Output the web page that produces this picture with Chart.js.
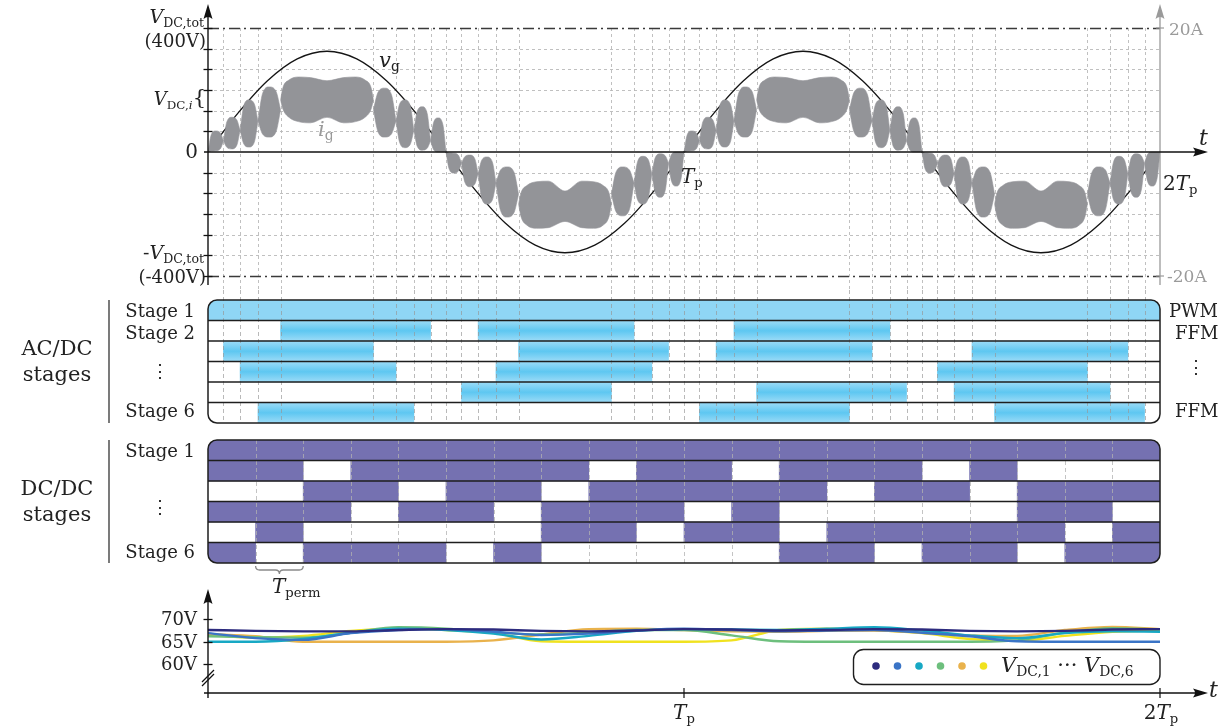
<!DOCTYPE html>
<html>
<head>
<meta charset="utf-8">
<script src="https://cdn.jsdelivr.net/npm/chart.js@4.4.0/dist/chart.umd.min.js"></script>
<style>
  body { margin: 0; background: #fff; }
  #wrap { position: relative; width: 1232px; height: 728px; overflow: hidden; font-family: "DejaVu Serif", serif; color: #222; }
  canvas { position: absolute; left: 0; }
  .lb { position: absolute; white-space: nowrap; }
  .lb sub { font-size: 0.66em; vertical-align: -0.32em; line-height: 0; font-style: normal; }
</style>
</head>
<body>
<div id="wrap">
  <canvas id="cTop" width="1232" height="290" style="top:0px"></canvas>
  <canvas id="cAc" width="1232" height="140" style="top:290px"></canvas>
  <canvas id="cDc" width="1232" height="170" style="top:430px"></canvas>
  <canvas id="cV" width="1232" height="143" style="top:585px"></canvas>
</div>
<script>
// time in ms, Tp = 20 ms, plot spans 0 .. 2Tp
const tEnd = 40;
const vDcTot = 400;       // V
const iMax = 20;          // A, right axis

// switching instants of the AC/DC stages (vertical grid of top panels)
const swT = [0.65, 1.35, 2.1, 3.05, 6.95, 7.9, 8.65, 9.35, 10,
             10.65, 11.35, 12.1, 13.05, 16.95, 17.9, 18.65, 19.35, 20,
             20.65, 21.35, 22.1, 23.05, 26.95, 27.9, 28.65, 29.35, 30,
             30.65, 31.35, 32.1, 33.05, 36.95, 37.9, 38.65, 39.35];

// grid voltage v_g
const vgT = [0, 1.25, 2.5, 3.75, 5, 6.25, 7.5, 8.75, 10, 11.25, 12.5, 13.75, 15, 16.25, 17.5, 18.75,
             20, 21.25, 22.5, 23.75, 25, 26.25, 27.5, 28.75, 30, 31.25, 32.5, 33.75, 35, 36.25, 37.5, 38.75, 40];
const vgV = [0, 124.4, 229.8, 300.3, 325, 300.3, 229.8, 124.4, 0, -124.4, -229.8, -300.3, -325, -300.3, -229.8, -124.4,
             0, 124.4, 229.8, 300.3, 325, 300.3, 229.8, 124.4, 0, -124.4, -229.8, -300.3, -325, -300.3, -229.8, -124.4, 0];

// grid current i_g : upper / lower envelope of each ripple lobe (A), null separates lobes
const igT = [
  0, 0.13, 0.32, 0.52, 0.65, 0.65, 0.65, 0.79, 1.0, 1.21, 1.35, 1.35, 1.35, 1.5, 1.72, 1.95, 2.1, 2.1, 2.1, 2.29, 2.57, 2.86, 3.05, 3.05,
  3.05, 3.15, 3.4, 3.8, 4.3, 5.0, 5.7, 6.2, 6.6, 6.85, 6.95, 6.95,
  6.95, 7.14, 7.42, 7.71, 7.9, 7.9, 7.9, 8.05, 8.27, 8.5, 8.65, 8.65, 8.65, 8.79, 9.0, 9.21, 9.35, 9.35, 9.35, 9.48, 9.67, 9.87, 10, 10,
  10, 10.13, 10.32, 10.52, 10.65, 10.65, 10.65, 10.79, 11.0, 11.21, 11.35, 11.35, 11.35, 11.5, 11.72, 11.95, 12.1, 12.1, 12.1, 12.29, 12.57, 12.86, 13.05, 13.05,
  13.05, 13.15, 13.4, 13.8, 14.3, 15.0, 15.7, 16.2, 16.6, 16.85, 16.95, 16.95,
  16.95, 17.14, 17.42, 17.71, 17.9, 17.9, 17.9, 18.05, 18.27, 18.5, 18.65, 18.65, 18.65, 18.79, 19.0, 19.21, 19.35, 19.35, 19.35, 19.48, 19.67, 19.87, 20, 20,
  20, 20.13, 20.32, 20.52, 20.65, 20.65, 20.65, 20.79, 21.0, 21.21, 21.35, 21.35, 21.35, 21.5, 21.72, 21.95, 22.1, 22.1, 22.1, 22.29, 22.57, 22.86, 23.05, 23.05,
  23.05, 23.15, 23.4, 23.8, 24.3, 25.0, 25.7, 26.2, 26.6, 26.85, 26.95, 26.95,
  26.95, 27.14, 27.42, 27.71, 27.9, 27.9, 27.9, 28.05, 28.27, 28.5, 28.65, 28.65, 28.65, 28.79, 29.0, 29.21, 29.35, 29.35, 29.35, 29.48, 29.67, 29.87, 30, 30,
  30, 30.13, 30.32, 30.52, 30.65, 30.65, 30.65, 30.79, 31.0, 31.21, 31.35, 31.35, 31.35, 31.5, 31.72, 31.95, 32.1, 32.1, 32.1, 32.29, 32.57, 32.86, 33.05, 33.05,
  33.05, 33.15, 33.4, 33.8, 34.3, 35.0, 35.7, 36.2, 36.6, 36.85, 36.95, 36.95,
  36.95, 37.14, 37.42, 37.71, 37.9, 37.9, 37.9, 38.05, 38.27, 38.5, 38.65, 38.65, 38.65, 38.79, 39.0, 39.21, 39.35, 39.35, 39.35, 39.48, 39.67, 39.87, 40, 40];
const igHi = [
  0, 2.72, 3.4, 3.08, 1.8, null, 1.8, 4.84, 5.6, 5.18, 3.5, null, 3.5, 7.42, 8.4, 7.72, 5.0, null, 5.0, 9.4, 10.5, 9.76, 6.8, null,
  8.4, 10.4, 11.6, 12.1, 12.0, 11.5, 12.0, 12.1, 11.6, 10.4, 8.4, null,
  6.8, 9.6, 10.3, 9.24, 5.0, null, 5.0, 7.72, 8.4, 7.42, 3.5, null, 3.5, 6.54, 7.3, 6.2, 1.8, null, 1.8, 4.76, 5.5, 4.4, 0, null,
  0, -0.16, -0.2, -0.52, -1.8, null, -1.8, -0.76, -0.5, -1.1, -3.5, null, -3.5, -1.34, -0.8, -1.64, -5.0, null, -5.0, -2.92, -2.4, -3.28, -6.8, null,
  -8.4, -6.6, -5.4, -4.8, -4.7, -6.3, -4.7, -4.8, -5.4, -6.6, -8.4, null,
  -6.8, -3.28, -2.4, -2.92, -5.0, null, -5.0, -1.56, -0.7, -1.26, -3.5, null, -3.5, -0.94, -0.3, -0.6, -1.8, null, -1.8, -0.36, 0.0, 0.0, 0, null,
  0, 2.72, 3.4, 3.08, 1.8, null, 1.8, 4.84, 5.6, 5.18, 3.5, null, 3.5, 7.42, 8.4, 7.72, 5.0, null, 5.0, 9.4, 10.5, 9.76, 6.8, null,
  8.4, 10.4, 11.6, 12.1, 12.0, 11.5, 12.0, 12.1, 11.6, 10.4, 8.4, null,
  6.8, 9.6, 10.3, 9.24, 5.0, null, 5.0, 7.72, 8.4, 7.42, 3.5, null, 3.5, 6.54, 7.3, 6.2, 1.8, null, 1.8, 4.76, 5.5, 4.4, 0, null,
  0, -0.16, -0.2, -0.52, -1.8, null, -1.8, -0.76, -0.5, -1.1, -3.5, null, -3.5, -1.34, -0.8, -1.64, -5.0, null, -5.0, -2.92, -2.4, -3.28, -6.8, null,
  -8.4, -6.6, -5.4, -4.8, -4.7, -6.3, -4.7, -4.8, -5.4, -6.6, -8.4, null,
  -6.8, -3.28, -2.4, -2.92, -5.0, null, -5.0, -1.56, -0.7, -1.26, -3.5, null, -3.5, -0.94, -0.3, -0.6, -1.8, null, -1.8, -0.36, 0.0, 0.0, 0, null];
const igLo = [
  0, 0.16, 0.2, 0.52, 1.8, null, 1.8, 0.76, 0.5, 1.1, 3.5, null, 3.5, 1.34, 0.8, 1.64, 5.0, null, 5.0, 2.92, 2.4, 3.28, 6.8, null,
  8.4, 6.9, 5.6, 4.9, 4.7, 5.6, 4.7, 4.9, 5.6, 6.9, 8.4, null,
  6.8, 3.28, 2.4, 2.92, 5.0, null, 5.0, 1.56, 0.7, 1.26, 3.5, null, 3.5, 0.94, 0.3, 0.6, 1.8, null, 1.8, 0.36, 0.0, 0.0, 0, null,
  0, -2.72, -3.4, -3.08, -1.8, null, -1.8, -4.84, -5.6, -5.18, -3.5, null, -3.5, -7.42, -8.4, -7.72, -5.0, null, -5.0, -9.4, -10.5, -9.76, -6.8, null,
  -8.4, -10.4, -11.8, -12.3, -12.2, -11.2, -12.2, -12.3, -11.8, -10.4, -8.4, null,
  -6.8, -9.6, -10.3, -9.24, -5.0, null, -5.0, -7.72, -8.4, -7.42, -3.5, null, -3.5, -6.54, -7.3, -6.2, -1.8, null, -1.8, -4.76, -5.5, -4.4, 0, null,
  0, 0.16, 0.2, 0.52, 1.8, null, 1.8, 0.76, 0.5, 1.1, 3.5, null, 3.5, 1.34, 0.8, 1.64, 5.0, null, 5.0, 2.92, 2.4, 3.28, 6.8, null,
  8.4, 6.9, 5.6, 4.9, 4.7, 5.6, 4.7, 4.9, 5.6, 6.9, 8.4, null,
  6.8, 3.28, 2.4, 2.92, 5.0, null, 5.0, 1.56, 0.7, 1.26, 3.5, null, 3.5, 0.94, 0.3, 0.6, 1.8, null, 1.8, 0.36, 0.0, 0.0, 0, null,
  0, -2.72, -3.4, -3.08, -1.8, null, -1.8, -4.84, -5.6, -5.18, -3.5, null, -3.5, -7.42, -8.4, -7.72, -5.0, null, -5.0, -9.4, -10.5, -9.76, -6.8, null,
  -8.4, -10.4, -11.8, -12.3, -12.2, -11.2, -12.2, -12.3, -11.8, -10.4, -8.4, null,
  -6.8, -9.6, -10.3, -9.24, -5.0, null, -5.0, -7.72, -8.4, -7.42, -3.5, null, -3.5, -6.54, -7.3, -6.2, -1.8, null, -1.8, -4.76, -5.5, -4.4, 0, null];

const stages = ["Stage 1", "Stage 2", "Stage 3", "Stage 4", "Stage 5", "Stage 6"];

// AC/DC stage conduction intervals [start, end] in ms
const acRuns = [
  [[0, 40]],
  [[3.05, 9.35], [11.35, 17.9], [22.1, 28.65]],
  [[0.65, 6.95], [13.05, 19.35], [21.35, 27.9], [32.1, 38.65]],
  [[1.35, 7.9], [12.1, 18.65], [30.65, 36.95]],
  [[10.65, 16.95], [23.05, 29.35], [31.35, 37.9]],
  [[2.1, 8.65], [20.65, 26.95], [33.05, 39.35]]
];

// DC/DC stage on-intervals, multiples of T_perm = 2 ms
const dcRuns = [
  [[0, 40]],
  [[0, 4], [6, 16], [18, 22], [24, 30], [32, 34]],
  [[4, 8], [10, 14], [16, 26], [28, 32], [34, 40]],
  [[0, 6], [8, 12], [14, 20], [22, 24], [34, 38]],
  [[2, 4], [14, 18], [20, 24], [26, 36], [38, 40]],
  [[0, 2], [4, 10], [12, 14], [24, 28], [30, 34], [36, 40]]
];
const permT = [2, 4, 6, 8, 10, 12, 14, 16, 18, 20, 22, 24, 26, 28, 30, 32, 34, 36, 38];

// DC link voltages of the 6 cells (V)
const vdcT = [0, 2, 4, 6, 8, 10, 12, 14, 16, 18, 20, 22, 24, 26, 28, 30, 32, 34, 36, 38, 40];
const vdc1 = [67.6, 67.4, 67.3, 67.3, 67.6, 67.8, 67.7, 67.4, 67.3, 67.5, 67.8, 67.7, 67.5, 67.6, 67.8, 67.7, 67.4, 67.3, 67.4, 67.7, 67.8];
const vdc2 = [66.9, 65.8, 65.4, 66.9, 67.6, 67.8, 67.2, 66.5, 66.8, 67.5, 67.9, 67.6, 67.3, 67.5, 67.6, 67.0, 66.2, 65.1, 65.0, 65.0, 65.0];
const vdc3 = [65.0, 65.0, 65.6, 67.0, 67.9, 67.6, 66.8, 65.5, 66.3, 67.4, 67.8, 67.7, 67.6, 67.9, 68.2, 67.5, 66.4, 65.8, 66.9, 67.3, 67.2];
const vdc4 = [66.2, 66.0, 65.9, 67.0, 68.2, 67.9, 67.1, 66.6, 67.0, 67.6, 67.6, 66.4, 65.1, 65.0, 65.0, 65.0, 65.0, 65.3, 67.0, 68.0, 67.7];
const vdc5 = [66.7, 66.2, 65.0, 65.0, 65.0, 65.0, 65.3, 66.6, 67.8, 67.9, 67.6, 67.3, 67.2, 67.4, 67.5, 67.0, 66.4, 66.3, 67.6, 68.3, 67.8];
const vdc6 = [66.5, 65.9, 66.3, 67.4, 67.9, 67.6, 66.9, 65.1, 65.0, 65.0, 65.0, 65.3, 67.6, 67.9, 67.6, 66.9, 65.6, 65.2, 66.3, 67.2, 67.5];
const vdcTicks = [60, 65, 70];

// ---------- helpers ----------
const pts = (xs, ys) => xs.map((x, i) => ({ x: x, y: ys[i] }));

function arrowUp(ctx, x, y, col) {
  ctx.save(); ctx.fillStyle = col; ctx.beginPath();
  ctx.moveTo(x, y); ctx.lineTo(x - 4.5, y + 15); ctx.quadraticCurveTo(x, y + 11, x + 4.5, y + 15);
  ctx.closePath(); ctx.fill(); ctx.restore();
}
function arrowRight(ctx, x, y, col) {
  ctx.save(); ctx.fillStyle = col; ctx.beginPath();
  ctx.moveTo(x, y); ctx.lineTo(x - 15, y - 4.5); ctx.quadraticCurveTo(x - 11, y, x - 15, y + 4.5);
  ctx.closePath(); ctx.fill(); ctx.restore();
}
function line(ctx, x1, y1, x2, y2, col, w, dash) {
  ctx.save(); ctx.strokeStyle = col; ctx.lineWidth = w; ctx.setLineDash(dash || []);
  ctx.beginPath(); ctx.moveTo(x1, y1); ctx.lineTo(x2, y2); ctx.stroke(); ctx.restore();
}
function runsToSets(runs) {
  const n = Math.max(...runs.map(r => r.length));
  const sets = [];
  for (let k = 0; k < n; k++) sets.push(runs.map(r => r[k] || null));
  return sets;
}
const base = {
  responsive: false,
  animation: false,
  events: [],
  plugins: { legend: { display: false }, tooltip: { enabled: false } }
};

// ---------- top panel: v_g and i_g ----------
const topDeco = {
  id: "topDeco",
  beforeDatasetsDraw(chart) {
    const { ctx, scales: { x, yV } } = chart;
    const left = x.getPixelForValue(0), right = x.getPixelForValue(tEnd);
    const yTop = yV.getPixelForValue(vDcTot);
    for (let k = -5; k <= 5; k++) {
      if (k === 0) continue;
      const y = Math.round(yV.getPixelForValue(k * vDcTot / 6)) + 0.5;
      line(ctx, left, y, right, y, "#b9b9b9", 0.9, [3, 3]);
    }
    swT.forEach(t => {
      const px = Math.round(x.getPixelForValue(t)) + 0.5;
      line(ctx, px, yTop, px, chart.height, "#b9b9b9", 0.9, [3, 3]);
    });
    [vDcTot, -vDcTot].forEach(v => {
      const y = Math.round(yV.getPixelForValue(v)) + 0.5;
      line(ctx, left, y, right, y, "#3a3a3a", 1.3, [11, 4, 2, 4]);
    });
  },
  afterDatasetsDraw(chart) {
    const { ctx, scales: { x, yV, yI } } = chart;
    const x0 = x.getPixelForValue(0), x2 = x.getPixelForValue(tEnd), y0 = yV.getPixelForValue(0);
    // gray current axis on the right
    line(ctx, x2, 285, x2, 14, "#9a9a9a", 1.3);
    arrowUp(ctx, x2, 4, "#9a9a9a");
    [iMax, -iMax].forEach(v => {
      const y = yI.getPixelForValue(v);
      line(ctx, x2 - 4, y, x2 + 4, y, "#9a9a9a", 1.2);
    });
    // voltage axis
    line(ctx, x0, 285, x0, 14, "#111", 1.4);
    arrowUp(ctx, x0, 4, "#111");
    for (let k = -6; k <= 6; k++) {
      if (k === 0) continue;
      const y = Math.round(yV.getPixelForValue(k * vDcTot / 6)) + 0.5;
      line(ctx, x0 - 4.5, y, x0 + 4.5, y, "#111", 1.3);
    }
    // time axis
    line(ctx, x0 - 4, y0, 1196, y0, "#111", 1.4);
    arrowRight(ctx, 1208, y0, "#111");
  }
};

new Chart(document.getElementById("cTop"), {
  type: "line",
  data: {
    datasets: [
      { data: pts(igT, igHi), yAxisID: "yI", borderColor: "#939498", borderWidth: 0.6, pointRadius: 0,
        cubicInterpolationMode: "monotone", spanGaps: false, fill: false },
      { data: pts(igT, igLo), yAxisID: "yI", borderColor: "#939498", borderWidth: 0.6, pointRadius: 0,
        cubicInterpolationMode: "monotone", spanGaps: false, fill: "-1", backgroundColor: "#939498" },
      { data: pts(vgT, vgV), yAxisID: "yV", borderColor: "#151515", borderWidth: 1.3, pointRadius: 0,
        cubicInterpolationMode: "monotone", fill: false }
    ]
  },
  options: Object.assign({}, base, {
    layout: { padding: { left: 208, right: 72, top: 5, bottom: 2 } },
    scales: {
      x: { type: "linear", min: 0, max: tEnd, display: false },
      yV: { type: "linear", min: -438.7, max: 474.2, display: false },
      yI: { type: "linear", min: -21.935, max: 23.71, display: false }
    }
  }),
  plugins: [topDeco]
});

// ---------- stage panels ----------
function stagePanel(id, runs, colorFn, gridT, extra) {
  const deco = {
    id: id + "Deco",
    beforeDatasetsDraw(chart) {
      const { ctx, chartArea: a } = chart;
      ctx.save();
      ctx.beginPath(); ctx.roundRect(a.left, a.top, a.width, a.height, 9); ctx.clip();
    },
    afterDatasetsDraw(chart) {
      const { ctx, chartArea: a, scales: { x, y } } = chart;
      ctx.restore();
      gridT.lines.forEach(t => {
        const px = Math.round(x.getPixelForValue(t)) + 0.5;
        line(ctx, px, gridT.fromTop ? 0 : a.top, px, a.bottom, gridT.color, 0.9, [4, 3]);
      });
      for (let i = 1; i < stages.length; i++) {
        const yy = (y.getPixelForValue(i - 1) + y.getPixelForValue(i)) / 2;
        line(ctx, a.left, yy, a.right, yy, "#1e1e1e", 1.3);
      }
      ctx.save(); ctx.strokeStyle = "#1e1e1e"; ctx.lineWidth = 1.5;
      ctx.beginPath(); ctx.roundRect(a.left, a.top, a.width, a.height, 9); ctx.stroke(); ctx.restore();
      line(ctx, 109, a.top, 109, a.bottom, "#333", 1.3);
      if (extra) extra(chart);
    }
  };
  return new Chart(document.getElementById(id), {
    type: "bar",
    data: {
      labels: stages,
      datasets: runsToSets(runs).map(d => ({
        data: d, backgroundColor: colorFn, borderWidth: 0, borderSkipped: false,
        grouped: false, barPercentage: 1, categoryPercentage: 1
      }))
    },
    options: Object.assign({}, base, {
      indexAxis: "y",
      layout: { padding: id === "cAc" ? { left: 208, right: 72, top: 10, bottom: 7 } : { left: 208, right: 72, top: 10, bottom: 37 } },
      scales: {
        x: { type: "linear", min: 0, max: tEnd, display: false },
        y: { type: "category", display: false }
      }
    }),
    plugins: [deco]
  });
}

function acColor(c) {
  const ch = c.chart, a = ch.chartArea;
  if (!a) return "#7dd0f3";
  if (c.dataIndex === 0) return "#8fd6f5";
  if (!ch.$grad) {
    const g = ch.ctx.createLinearGradient(0, a.top, 0, a.bottom);
    for (let i = 0; i < 6; i++) {
      g.addColorStop(i / 6 + 0.002, "#9bdbf7");
      g.addColorStop((i + 0.5) / 6, "#5ec7f1");
      g.addColorStop((i + 1) / 6 - 0.002, "#9bdbf7");
    }
    ch.$grad = g;
  }
  return ch.$grad;
}

stagePanel("cAc", acRuns, acColor, { lines: swT, color: "rgba(150,150,150,0.75)", fromTop: true });

stagePanel("cDc", dcRuns, "#7571b1", { lines: permT, color: "rgba(178,178,178,0.85)", fromTop: false }, chart => {
  // brace marking one permutation period T_perm
  const { ctx, chartArea: a, scales: { x } } = chart;
  const x1 = x.getPixelForValue(permT[0]), x2 = x.getPixelForValue(permT[1]), xm = (x1 + x2) / 2;
  const y = a.bottom + 3;
  ctx.save(); ctx.strokeStyle = "#8a8a8a"; ctx.lineWidth = 1.3; ctx.beginPath();
  ctx.moveTo(x1, y); ctx.quadraticCurveTo(x1, y + 4, x1 + 4, y + 4);
  ctx.lineTo(xm - 4, y + 4); ctx.quadraticCurveTo(xm, y + 4, xm, y + 8);
  ctx.quadraticCurveTo(xm, y + 4, xm + 4, y + 4);
  ctx.lineTo(x2 - 4, y + 4); ctx.quadraticCurveTo(x2, y + 4, x2, y);
  ctx.stroke(); ctx.restore();
});

// ---------- bottom panel: DC link voltages ----------
const vColors = ["#2d2b7e", "#3a74c6", "#17a8c4", "#6dbf7d", "#e9b24c", "#f0e21f"];
const vDeco = {
  id: "vDeco",
  afterDatasetsDraw(chart) {
    const { ctx, chartArea: a, scales: { x, y } } = chart;
    const x0 = x.getPixelForValue(0);
    line(ctx, x0, a.bottom + 5, x0, 14, "#111", 1.4);
    arrowUp(ctx, x0, 4, "#111");
    ctx.save();
    ctx.font = '18px "DejaVu Serif"'; ctx.fillStyle = "#222"; ctx.textAlign = "right"; ctx.textBaseline = "middle";
    vdcTicks.forEach(v => {
      const py = Math.round(y.getPixelForValue(v)) + 0.5;
      line(ctx, x0 - 4.5, py, x0 + 4.5, py, "#111", 1.3);
      ctx.fillText(v + "V", 197, py + 1);
    });
    ctx.restore();
    // axis break
    const yb = a.bottom - 16;
    line(ctx, x0 - 6, yb + 5, x0 + 6, yb - 7, "#111", 1.2);
    line(ctx, x0 - 6, yb + 9, x0 + 6, yb - 3, "#111", 1.2);
    // time axis
    line(ctx, x0 - 4, a.bottom, 1196, a.bottom, "#111", 1.4);
    arrowRight(ctx, 1208, a.bottom, "#111");
    [tEnd / 2, tEnd].forEach(t => {
      const px = x.getPixelForValue(t);
      line(ctx, px, a.bottom - 5, px, a.bottom + 5, "#111", 1.2);
    });
    // legend
    ctx.save(); ctx.strokeStyle = "#1e1e1e"; ctx.lineWidth = 1.4;
    ctx.beginPath(); ctx.roundRect(853.5, 64.5, x.getPixelForValue(tEnd) - 853.5, 35, 10); ctx.stroke();
    chart.data.datasets.forEach((ds, i) => {
      ctx.fillStyle = ds.borderColor; ctx.beginPath(); ctx.arc(876 + i * 21.5, 81, 3.8, 0, Math.PI * 2); ctx.fill();
    });
    ctx.restore();
  }
};

new Chart(document.getElementById("cV"), {
  type: "line",
  data: {
    datasets: [vdc1, vdc2, vdc3, vdc4, vdc5, vdc6].map((v, i) => ({
      data: pts(vdcT, v), borderColor: vColors[i], borderWidth: 2.4, pointRadius: 0,
      cubicInterpolationMode: "monotone", fill: false
    }))
  },
  options: Object.assign({}, base, {
    layout: { padding: { left: 208, right: 72, top: 5, bottom: 35 } },
    scales: {
      x: { type: "linear", min: 0, max: tEnd, display: false },
      y: { type: "linear", min: 53.6, max: 76.49, display: false }
    }
  }),
  plugins: [vDeco]
});

// ---------- text ----------
const wrap = document.getElementById("wrap");
const texts = [
  ['<i>V</i><sub>DC,tot</sub>', 204, 16, "r", 19],
  ['(400V)', 206, 41, "r", 18],
  ['<i>V</i><sub>DC,<i>i</i></sub><span style="font-size:21px;vertical-align:1px">{</span>', 206, 97, "r", 18],
  ['0', 198, 151, "r", 20],
  ['-<i>V</i><sub>DC,tot</sub>', 204, 252, "r", 19],
  ['(-400V)', 206, 277, "r", 18],
  ['<i>v</i><sub>g</sub>', 379, 60, "l", 21],
  ['<i>i</i><sub>g</sub>', 318, 129, "l", 21, "#9a9a9a"],
  ['<i>T</i><sub>p</sub>', 681, 176, "l", 20],
  ['2<i>T</i><sub>p</sub>', 1163, 183, "l", 20],
  ['<i>t</i>', 1199, 138, "l", 22],
  ['20A', 1169, 29, "l", 17, "#9a9a9a"],
  ['-20A', 1167, 276, "l", 17, "#9a9a9a"],
  ['Stage 1', 195, 311, "r", 18],
  ['Stage 2', 195, 333, "r", 18],
  ['\u22EE', 160, 371, "c", 18],
  ['Stage 6', 195, 411, "r", 18],
  ['AC/DC', 57, 348, "c", 21],
  ['stages', 57, 374, "c", 21],
  ['PWM', 1169, 311, "l", 18],
  ['FFM', 1175, 333, "l", 18],
  ['\u22EE', 1196, 367, "c", 18],
  ['FFM', 1175, 411, "l", 18],
  ['Stage 1', 195, 451, "r", 18],
  ['\u22EE', 160, 507, "c", 18],
  ['Stage 6', 195, 552, "r", 18],
  ['DC/DC', 57, 488, "c", 21],
  ['stages', 57, 514, "c", 21],
  ['<i>T</i><sub>perm</sub>', 272, 586, "l", 20],
  ['<i>t</i>', 1209, 690, "l", 22],
  ['<i>T</i><sub>p</sub>', 684, 712, "c", 20],
  ['2<i>T</i><sub>p</sub>', 1161, 712, "c", 20],
  ['<i>V</i><sub>DC,1</sub> \u00B7\u00B7\u00B7 <i>V</i><sub>DC,6</sub>', 1001, 665, "l", 21]
];
texts.forEach(([h, x, y, al, sz, col]) => {
  const d = document.createElement("div");
  d.className = "lb";
  d.innerHTML = h;
  d.style.fontSize = sz + "px";
  d.style.lineHeight = sz + "px";
  d.style.top = (y - sz / 2) + "px";
  if (al === "r") d.style.right = (1232 - x) + "px";
  else if (al === "c") { d.style.left = x + "px"; d.style.transform = "translateX(-50%)"; }
  else d.style.left = x + "px";
  if (col) d.style.color = col;
  wrap.appendChild(d);
});
</script>
</body>
</html>
